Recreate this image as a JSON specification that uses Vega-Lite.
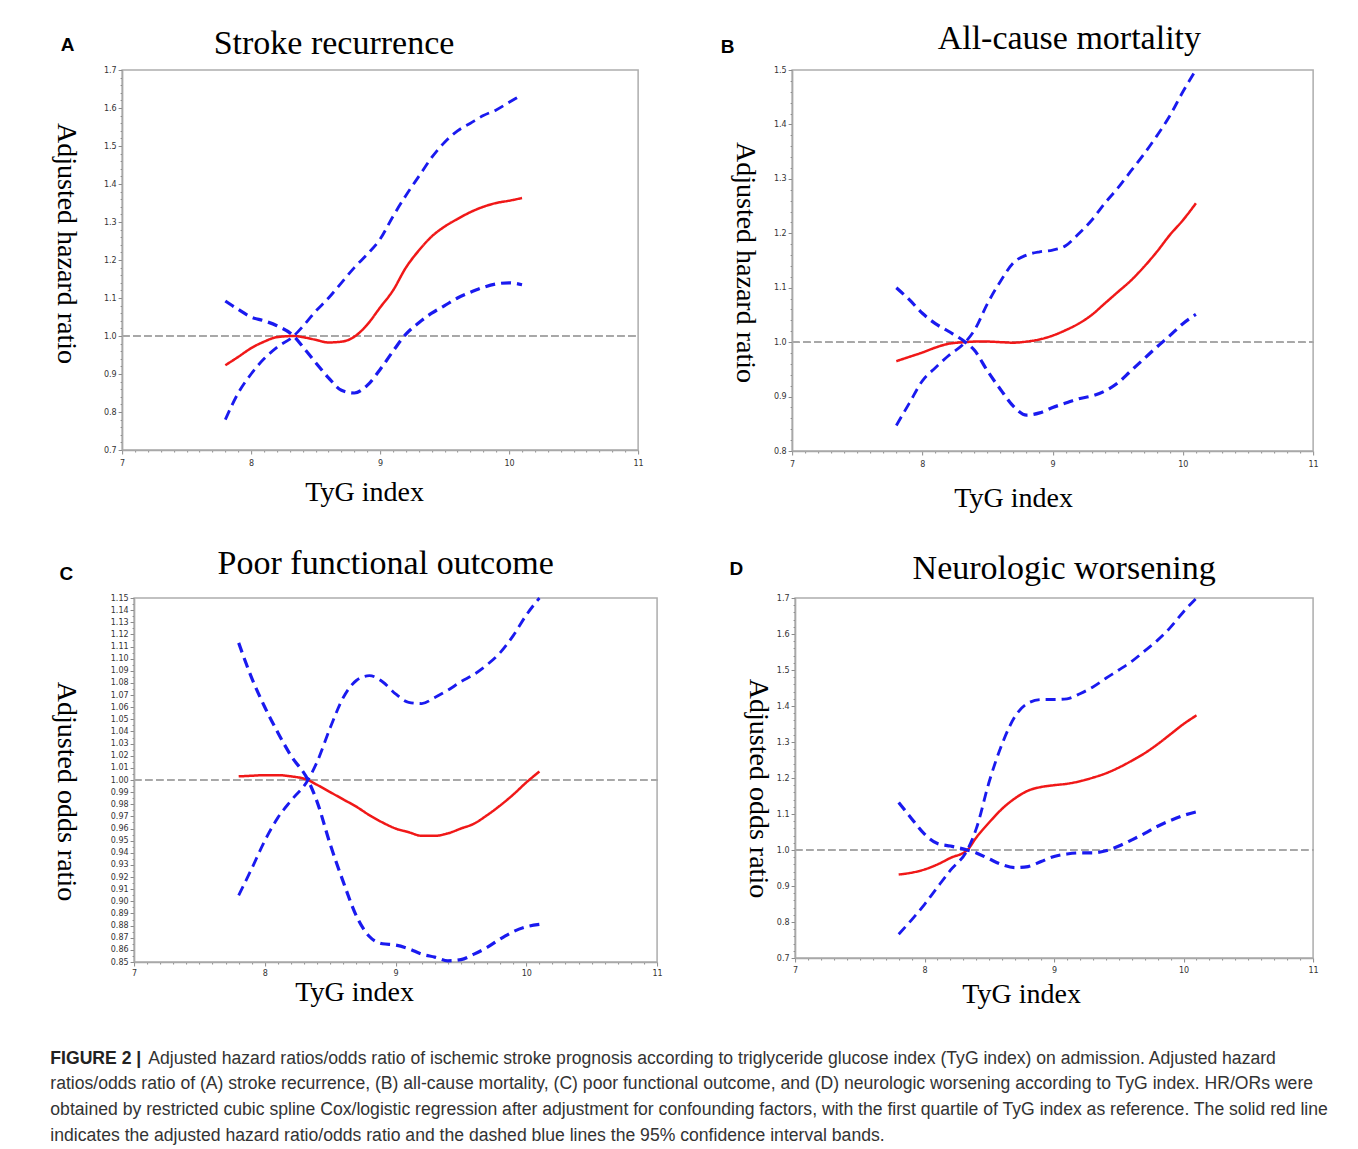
{
  "$schema": "https://vega.github.io/schema/vega-lite/v6.json",
  "padding": {"left": 50, "top": 20, "right": 0, "bottom": 0},
  "background": "white",
  "datasets": {
    "A": [
      {"tyg": 7.8, "estimate": 0.923, "ci_1": 0.78, "ci_2": 1.092},
      {"tyg": 7.9, "estimate": 0.945, "ci_1": 0.85, "ci_2": 1.07},
      {"tyg": 8.0, "estimate": 0.968, "ci_1": 0.90, "ci_2": 1.05},
      {"tyg": 8.1, "estimate": 0.985, "ci_1": 0.94, "ci_2": 1.04},
      {"tyg": 8.2, "estimate": 0.997, "ci_1": 0.97, "ci_2": 1.027},
      {"tyg": 8.33, "estimate": 1.0, "ci_1": 1.0, "ci_2": 1.0},
      {"tyg": 8.4, "estimate": 0.997, "ci_1": 1.025, "ci_2": 0.972},
      {"tyg": 8.5, "estimate": 0.99, "ci_1": 1.065, "ci_2": 0.93},
      {"tyg": 8.6, "estimate": 0.983, "ci_1": 1.10, "ci_2": 0.89},
      {"tyg": 8.7, "estimate": 0.985, "ci_1": 1.14, "ci_2": 0.857},
      {"tyg": 8.8, "estimate": 0.998, "ci_1": 1.18, "ci_2": 0.85},
      {"tyg": 8.9, "estimate": 1.03, "ci_1": 1.215, "ci_2": 0.87},
      {"tyg": 9.0, "estimate": 1.075, "ci_1": 1.255, "ci_2": 0.912},
      {"tyg": 9.1, "estimate": 1.12, "ci_1": 1.315, "ci_2": 0.96},
      {"tyg": 9.2, "estimate": 1.18, "ci_1": 1.37, "ci_2": 1.005},
      {"tyg": 9.3, "estimate": 1.225, "ci_1": 1.42, "ci_2": 1.035},
      {"tyg": 9.4, "estimate": 1.262, "ci_1": 1.47, "ci_2": 1.06},
      {"tyg": 9.5, "estimate": 1.288, "ci_1": 1.51, "ci_2": 1.08},
      {"tyg": 9.6, "estimate": 1.308, "ci_1": 1.54, "ci_2": 1.10},
      {"tyg": 9.7, "estimate": 1.326, "ci_1": 1.56, "ci_2": 1.115},
      {"tyg": 9.8, "estimate": 1.34, "ci_1": 1.58, "ci_2": 1.128},
      {"tyg": 9.9, "estimate": 1.35, "ci_1": 1.595, "ci_2": 1.137},
      {"tyg": 10.0, "estimate": 1.356, "ci_1": 1.615, "ci_2": 1.14},
      {"tyg": 10.1, "estimate": 1.363, "ci_1": 1.635, "ci_2": 1.135}
    ],
    "B": [
      {"tyg": 7.8, "estimate": 0.965, "ci_1": 0.847, "ci_2": 1.1},
      {"tyg": 7.9, "estimate": 0.973, "ci_1": 0.888, "ci_2": 1.078},
      {"tyg": 8.0, "estimate": 0.981, "ci_1": 0.929, "ci_2": 1.053},
      {"tyg": 8.1, "estimate": 0.99, "ci_1": 0.953, "ci_2": 1.034},
      {"tyg": 8.2, "estimate": 0.997, "ci_1": 0.975, "ci_2": 1.02},
      {"tyg": 8.33, "estimate": 1.0, "ci_1": 1.0, "ci_2": 1.0},
      {"tyg": 8.4, "estimate": 1.001, "ci_1": 1.022, "ci_2": 0.985},
      {"tyg": 8.5, "estimate": 1.001, "ci_1": 1.071, "ci_2": 0.947},
      {"tyg": 8.6, "estimate": 1.0, "ci_1": 1.112, "ci_2": 0.913},
      {"tyg": 8.7, "estimate": 0.999, "ci_1": 1.146, "ci_2": 0.882},
      {"tyg": 8.8, "estimate": 1.001, "ci_1": 1.16, "ci_2": 0.866},
      {"tyg": 8.9, "estimate": 1.005, "ci_1": 1.166, "ci_2": 0.87},
      {"tyg": 9.0, "estimate": 1.012, "ci_1": 1.169, "ci_2": 0.88},
      {"tyg": 9.1, "estimate": 1.022, "ci_1": 1.177, "ci_2": 0.888},
      {"tyg": 9.2, "estimate": 1.034, "ci_1": 1.199, "ci_2": 0.896},
      {"tyg": 9.3, "estimate": 1.05, "ci_1": 1.224, "ci_2": 0.901},
      {"tyg": 9.4, "estimate": 1.071, "ci_1": 1.255, "ci_2": 0.91},
      {"tyg": 9.5, "estimate": 1.092, "ci_1": 1.283, "ci_2": 0.925},
      {"tyg": 9.6, "estimate": 1.113, "ci_1": 1.314, "ci_2": 0.947},
      {"tyg": 9.7, "estimate": 1.138, "ci_1": 1.345, "ci_2": 0.969},
      {"tyg": 9.8, "estimate": 1.166, "ci_1": 1.379, "ci_2": 0.991},
      {"tyg": 9.9, "estimate": 1.197, "ci_1": 1.416, "ci_2": 1.012},
      {"tyg": 10.0, "estimate": 1.224, "ci_1": 1.46, "ci_2": 1.034},
      {"tyg": 10.1, "estimate": 1.255, "ci_1": 1.5, "ci_2": 1.051}
    ],
    "C": [
      {"tyg": 7.8, "estimate": 1.003, "ci_1": 0.905, "ci_2": 1.113},
      {"tyg": 7.9, "estimate": 1.0035, "ci_1": 0.927, "ci_2": 1.084},
      {"tyg": 8.0, "estimate": 1.004, "ci_1": 0.95, "ci_2": 1.06},
      {"tyg": 8.1, "estimate": 1.004, "ci_1": 0.969, "ci_2": 1.039},
      {"tyg": 8.2, "estimate": 1.003, "ci_1": 0.983, "ci_2": 1.02},
      {"tyg": 8.33, "estimate": 1.0, "ci_1": 1.0, "ci_2": 1.0},
      {"tyg": 8.4, "estimate": 0.996, "ci_1": 1.015, "ci_2": 0.982},
      {"tyg": 8.5, "estimate": 0.99, "ci_1": 1.043, "ci_2": 0.947},
      {"tyg": 8.6, "estimate": 0.984, "ci_1": 1.068, "ci_2": 0.916},
      {"tyg": 8.7, "estimate": 0.978, "ci_1": 1.082, "ci_2": 0.888},
      {"tyg": 8.8, "estimate": 0.971, "ci_1": 1.086, "ci_2": 0.871},
      {"tyg": 8.9, "estimate": 0.965, "ci_1": 1.081, "ci_2": 0.865},
      {"tyg": 9.0, "estimate": 0.96, "ci_1": 1.071, "ci_2": 0.864},
      {"tyg": 9.1, "estimate": 0.957, "ci_1": 1.064, "ci_2": 0.861},
      {"tyg": 9.2, "estimate": 0.954, "ci_1": 1.063, "ci_2": 0.8565},
      {"tyg": 9.3, "estimate": 0.954, "ci_1": 1.068, "ci_2": 0.854},
      {"tyg": 9.4, "estimate": 0.956, "ci_1": 1.074, "ci_2": 0.851},
      {"tyg": 9.5, "estimate": 0.96, "ci_1": 1.081, "ci_2": 0.852},
      {"tyg": 9.6, "estimate": 0.964, "ci_1": 1.087, "ci_2": 0.8565},
      {"tyg": 9.7, "estimate": 0.971, "ci_1": 1.095, "ci_2": 0.862},
      {"tyg": 9.8, "estimate": 0.979, "ci_1": 1.105, "ci_2": 0.869},
      {"tyg": 9.9, "estimate": 0.988, "ci_1": 1.119, "ci_2": 0.875},
      {"tyg": 10.0, "estimate": 0.998, "ci_1": 1.136, "ci_2": 0.879},
      {"tyg": 10.1, "estimate": 1.007, "ci_1": 1.15, "ci_2": 0.881}
    ],
    "D": [
      {"tyg": 7.8, "estimate": 0.932, "ci_1": 0.766, "ci_2": 1.132},
      {"tyg": 7.9, "estimate": 0.937, "ci_1": 0.806, "ci_2": 1.087},
      {"tyg": 8.0, "estimate": 0.946, "ci_1": 0.849, "ci_2": 1.044},
      {"tyg": 8.1, "estimate": 0.96, "ci_1": 0.897, "ci_2": 1.018},
      {"tyg": 8.2, "estimate": 0.978, "ci_1": 0.944, "ci_2": 1.011},
      {"tyg": 8.33, "estimate": 1.0, "ci_1": 1.0, "ci_2": 1.0},
      {"tyg": 8.4, "estimate": 1.035, "ci_1": 1.06, "ci_2": 0.992},
      {"tyg": 8.5, "estimate": 1.077, "ci_1": 1.191, "ci_2": 0.975},
      {"tyg": 8.6, "estimate": 1.115, "ci_1": 1.296, "ci_2": 0.959},
      {"tyg": 8.7, "estimate": 1.144, "ci_1": 1.372, "ci_2": 0.951},
      {"tyg": 8.8, "estimate": 1.165, "ci_1": 1.408, "ci_2": 0.954},
      {"tyg": 8.9, "estimate": 1.175, "ci_1": 1.418, "ci_2": 0.968},
      {"tyg": 9.0, "estimate": 1.18, "ci_1": 1.418, "ci_2": 0.982},
      {"tyg": 9.1, "estimate": 1.184, "ci_1": 1.42, "ci_2": 0.989},
      {"tyg": 9.2, "estimate": 1.191, "ci_1": 1.434, "ci_2": 0.992},
      {"tyg": 9.3, "estimate": 1.201, "ci_1": 1.453, "ci_2": 0.992},
      {"tyg": 9.4, "estimate": 1.213, "ci_1": 1.477, "ci_2": 0.998},
      {"tyg": 9.5, "estimate": 1.229, "ci_1": 1.5, "ci_2": 1.011},
      {"tyg": 9.6, "estimate": 1.248, "ci_1": 1.524, "ci_2": 1.028},
      {"tyg": 9.7, "estimate": 1.269, "ci_1": 1.553, "ci_2": 1.046},
      {"tyg": 9.8, "estimate": 1.294, "ci_1": 1.583, "ci_2": 1.066},
      {"tyg": 9.9, "estimate": 1.322, "ci_1": 1.619, "ci_2": 1.082},
      {"tyg": 10.0, "estimate": 1.35, "ci_1": 1.662, "ci_2": 1.096},
      {"tyg": 10.1, "estimate": 1.374, "ci_1": 1.70, "ci_2": 1.106}
    ]
  },
  "title": {
    "text": "FIGURE 2 |",
    "subtitle": [
      "ratios/odds ratio of (A) stroke recurrence, (B) all-cause mortality, (C) poor functional outcome, and (D) neurologic worsening according to TyG index. HR/ORs were",
      "obtained by restricted cubic spline Cox/logistic regression after adjustment for confounding factors, with the first quartile of TyG index as reference. The solid red line",
      "indicates the adjusted hazard ratio/odds ratio and the dashed blue lines the 95% confidence interval bands."
    ],
    "orient": "bottom",
    "anchor": "start",
    "frame": "bounds",
    "align": "left",
    "offset": -17.6,
    "font": "Liberation Sans",
    "fontSize": 17.6,
    "fontWeight": "bold",
    "color": "#222222",
    "subtitleFont": "Liberation Sans",
    "subtitleFontSize": 17.6,
    "subtitleFontWeight": "normal",
    "subtitleColor": "#333333",
    "subtitleLineHeight": 25.7,
    "subtitlePadding": 8.1
  },
  "vconcat": [
    {
      "title": {
        "text": "Adjusted hazard ratios/odds ratio of ischemic stroke prognosis according to triglyceride glucose index (TyG index) on admission. Adjusted hazard",
        "orient": "bottom",
        "anchor": "start",
        "frame": "bounds",
        "align": "left",
        "dx": 98,
        "offset": 41,
        "limit": 0,
        "font": "Liberation Sans",
        "fontSize": 17.6,
        "fontWeight": "normal",
        "color": "#333333"
      },
      "center": true,
      "spacing": 32,
      "vconcat": [
        {
          "spacing": 75,
          "hconcat": [
            {
              "width": 516, "height": 380,
              "data": {"name": "A"},
              "layer": [
                {
                  "mark": {"type": "rule", "color": "#a8a8a8", "strokeDash": [7, 4], "strokeWidth": 1.5},
                  "encoding": {
                    "x": {"datum": 7, "type": "quantitative", "scale": {"domain": [7, 11]},
                      "axis": {"orient": "top", "title": "Stroke recurrence", "titleFont": "Liberation Serif", "titleFontSize": 34, "titleX": 91, "titleY": -17, "titleAlign": "left", "titleBaseline": "alphabetic", "labels": false, "ticks": false, "domain": false}},
                    "x2": {"datum": 11},
                    "y": {"datum": 1, "type": "quantitative", "scale": {"domain": [0.7, 1.7]},
                      "axis": {"orient": "right", "title": "A", "titleFont": "Liberation Sans", "titleFontWeight": "bold", "titleFontSize": 19, "titleAngle": 0, "titleX": -578, "titleY": -20, "titleAlign": "left", "titleBaseline": "alphabetic", "labels": false, "ticks": false, "domain": false}}
                  }
                },
                {
                  "transform": [{"fold": ["estimate", "ci_1", "ci_2"], "as": ["series", "value"]}],
                  "mark": {"type": "line", "interpolate": "monotone", "strokeCap": "butt"},
                  "encoding": {
                    "x": {"field": "tyg", "type": "quantitative", "scale": {"domain": [7, 11]},
                      "axis": {"orient": "bottom", "title": "TyG index", "titleFontSize": 28, "titleX": 242, "titleY": 50, "titleAlign": "center", "titleBaseline": "alphabetic", "labelPadding": 5,
                        "values": [7,7.1,7.2,7.3,7.4,7.5,7.6,7.7,7.8,7.9,8,8.1,8.2,8.3,8.4,8.5,8.6,8.7,8.8,8.9,9,9.1,9.2,9.3,9.4,9.5,9.6,9.7,9.8,9.9,10,10.1,10.2,10.3,10.4,10.5,10.6,10.7,10.8,10.9,11],
                        "labelExpr": "abs(datum.value - round(datum.value)) < 0.001 ? format(datum.value, 'd') : ''",
                        "tickSize": {"condition": {"test": "abs(datum.value - round(datum.value)) < 0.001", "value": 4}, "value": 2}}},
                    "y": {"field": "value", "type": "quantitative", "scale": {"domain": [0.7, 1.7]},
                      "axis": {"orient": "left", "title": "Adjusted hazard ratio", "titleFontSize": 28, "titleAngle": 90, "titleX": -43, "titleY": 173, "titleAlign": "center", "titleBaseline": "top",
                        "values": [0.7,0.72,0.74,0.76,0.78,0.8,0.82,0.84,0.86,0.88,0.9,0.92,0.94,0.96,0.98,1,1.02,1.04,1.06,1.08,1.1,1.12,1.14,1.16,1.18,1.2,1.22,1.24,1.26,1.28,1.3,1.32,1.34,1.36,1.38,1.4,1.42,1.44,1.46,1.48,1.5,1.52,1.54,1.56,1.58,1.6,1.62,1.64,1.66,1.68,1.7],
                        "labelExpr": "abs(datum.value * 10 - round(datum.value * 10)) < 0.001 ? format(datum.value, '.1f') : ''",
                        "tickSize": {"condition": {"test": "abs(datum.value * 10 - round(datum.value * 10)) < 0.001", "value": 4}, "value": 2}}},
                    "color": {"field": "series", "type": "nominal", "scale": {"domain": ["estimate", "ci_1", "ci_2"], "range": ["#f01818", "#1a1aef", "#1a1aef"]}, "legend": null},
                    "strokeDash": {"field": "series", "type": "nominal", "scale": {"domain": ["estimate", "ci_1", "ci_2"], "range": [[1, 0], [10, 6], [10, 6]]}, "legend": null},
                    "strokeWidth": {"field": "series", "type": "ordinal", "scale": {"domain": ["estimate", "ci_1", "ci_2"], "range": [2.5, 3.2, 3.2]}, "legend": null}
                  }
                }
              ],
              "resolve": {"axis": {"x": "independent", "y": "independent"}}
            },
            {
              "width": 521, "height": 381,
              "data": {"name": "B"},
              "layer": [
                {
                  "mark": {"type": "rule", "color": "#a8a8a8", "strokeDash": [7, 4], "strokeWidth": 1.5},
                  "encoding": {
                    "x": {"datum": 7, "type": "quantitative", "scale": {"domain": [7, 11]},
                      "axis": {"orient": "top", "title": "All-cause mortality", "titleFont": "Liberation Serif", "titleFontSize": 34, "titleX": 145, "titleY": -22, "titleAlign": "left", "titleBaseline": "alphabetic", "labels": false, "ticks": false, "domain": false}},
                    "x2": {"datum": 11},
                    "y": {"datum": 1, "type": "quantitative", "scale": {"domain": [0.8, 1.5]},
                      "axis": {"orient": "right", "offset": 17, "title": "B", "titleFont": "Liberation Sans", "titleFontWeight": "bold", "titleFontSize": 19, "titleAngle": 0, "titleX": -610, "titleY": -18, "titleAlign": "left", "titleBaseline": "alphabetic", "labels": false, "ticks": false, "domain": true, "domainOpacity": 0}}
                  }
                },
                {
                  "transform": [{"fold": ["estimate", "ci_1", "ci_2"], "as": ["series", "value"]}],
                  "mark": {"type": "line", "interpolate": "monotone", "strokeCap": "butt"},
                  "encoding": {
                    "x": {"field": "tyg", "type": "quantitative", "scale": {"domain": [7, 11]},
                      "axis": {"orient": "bottom", "title": "TyG index", "titleFontSize": 28, "titleX": 221, "titleY": 55, "titleAlign": "center", "titleBaseline": "alphabetic", "labelPadding": 5,
                        "values": [7,7.1,7.2,7.3,7.4,7.5,7.6,7.7,7.8,7.9,8,8.1,8.2,8.3,8.4,8.5,8.6,8.7,8.8,8.9,9,9.1,9.2,9.3,9.4,9.5,9.6,9.7,9.8,9.9,10,10.1,10.2,10.3,10.4,10.5,10.6,10.7,10.8,10.9,11],
                        "labelExpr": "abs(datum.value - round(datum.value)) < 0.001 ? format(datum.value, 'd') : ''",
                        "tickSize": {"condition": {"test": "abs(datum.value - round(datum.value)) < 0.001", "value": 4}, "value": 2}}},
                    "y": {"field": "value", "type": "quantitative", "scale": {"domain": [0.8, 1.5]},
                      "axis": {"orient": "left", "title": "Adjusted hazard ratio", "titleFontSize": 28, "titleAngle": 90, "titleX": -34, "titleY": 192, "titleAlign": "center", "titleBaseline": "top",
                        "values": [0.8,0.82,0.84,0.86,0.88,0.9,0.92,0.94,0.96,0.98,1,1.02,1.04,1.06,1.08,1.1,1.12,1.14,1.16,1.18,1.2,1.22,1.24,1.26,1.28,1.3,1.32,1.34,1.36,1.38,1.4,1.42,1.44,1.46,1.48,1.5],
                        "labelExpr": "abs(datum.value * 10 - round(datum.value * 10)) < 0.001 ? format(datum.value, '.1f') : ''",
                        "tickSize": {"condition": {"test": "abs(datum.value * 10 - round(datum.value * 10)) < 0.001", "value": 4}, "value": 2}}},
                    "color": {"field": "series", "type": "nominal", "scale": {"domain": ["estimate", "ci_1", "ci_2"], "range": ["#f01818", "#1a1aef", "#1a1aef"]}, "legend": null},
                    "strokeDash": {"field": "series", "type": "nominal", "scale": {"domain": ["estimate", "ci_1", "ci_2"], "range": [[1, 0], [10, 6], [10, 6]]}, "legend": null},
                    "strokeWidth": {"field": "series", "type": "ordinal", "scale": {"domain": ["estimate", "ci_1", "ci_2"], "range": [2.5, 3.2, 3.2]}, "legend": null}
                  }
                }
              ],
              "resolve": {"axis": {"x": "independent", "y": "independent"}}
            }
          ]
        },
        {
          "spacing": 65,
          "hconcat": [
            {
              "width": 523, "height": 364,
              "data": {"name": "C"},
              "layer": [
                {
                  "mark": {"type": "rule", "color": "#a8a8a8", "strokeDash": [7, 4], "strokeWidth": 1.5},
                  "encoding": {
                    "x": {"datum": 7, "type": "quantitative", "scale": {"domain": [7, 11]},
                      "axis": {"orient": "top", "title": "Poor functional outcome", "titleFont": "Liberation Serif", "titleFontSize": 34, "titleX": 83, "titleY": -25, "titleAlign": "left", "titleBaseline": "alphabetic", "labels": false, "ticks": false, "domain": false}},
                    "x2": {"datum": 11},
                    "y": {"datum": 1, "type": "quantitative", "scale": {"domain": [0.85, 1.15]},
                      "axis": {"orient": "right", "title": "C", "titleFont": "Liberation Sans", "titleFontWeight": "bold", "titleFontSize": 19, "titleAngle": 0, "titleX": -598, "titleY": -19, "titleAlign": "left", "titleBaseline": "alphabetic", "labels": false, "ticks": false, "domain": false}}
                  }
                },
                {
                  "transform": [{"fold": ["estimate", "ci_1", "ci_2"], "as": ["series", "value"]}],
                  "mark": {"type": "line", "interpolate": "monotone", "strokeCap": "butt"},
                  "encoding": {
                    "x": {"field": "tyg", "type": "quantitative", "scale": {"domain": [7, 11]},
                      "axis": {"orient": "bottom", "title": "TyG index", "titleFontSize": 28, "titleX": 220, "titleY": 38, "titleAlign": "center", "titleBaseline": "alphabetic", "labelPadding": 3,
                        "values": [7,7.1,7.2,7.3,7.4,7.5,7.6,7.7,7.8,7.9,8,8.1,8.2,8.3,8.4,8.5,8.6,8.7,8.8,8.9,9,9.1,9.2,9.3,9.4,9.5,9.6,9.7,9.8,9.9,10,10.1,10.2,10.3,10.4,10.5,10.6,10.7,10.8,10.9,11],
                        "labelExpr": "abs(datum.value - round(datum.value)) < 0.001 ? format(datum.value, 'd') : ''",
                        "tickSize": {"condition": {"test": "abs(datum.value - round(datum.value)) < 0.001", "value": 4}, "value": 2}}},
                    "y": {"field": "value", "type": "quantitative", "scale": {"domain": [0.85, 1.15]},
                      "axis": {"orient": "left", "title": "Adjusted odds ratio", "titleFontSize": 28, "titleAngle": 90, "titleX": -55, "titleY": 193, "titleAlign": "center", "titleBaseline": "top",
                        "values": [0.85,0.855,0.86,0.865,0.87,0.875,0.88,0.885,0.89,0.895,0.9,0.905,0.91,0.915,0.92,0.925,0.93,0.935,0.94,0.945,0.95,0.955,0.96,0.965,0.97,0.975,0.98,0.985,0.99,0.995,1,1.005,1.01,1.015,1.02,1.025,1.03,1.035,1.04,1.045,1.05,1.055,1.06,1.065,1.07,1.075,1.08,1.085,1.09,1.095,1.1,1.105,1.11,1.115,1.12,1.125,1.13,1.135,1.14,1.145,1.15],
                        "labelExpr": "abs(datum.value * 100 - round(datum.value * 100)) < 0.01 ? format(datum.value, '.2f') : ''",
                        "tickSize": {"condition": {"test": "abs(datum.value * 100 - round(datum.value * 100)) < 0.01", "value": 4}, "value": 2}}},
                    "color": {"field": "series", "type": "nominal", "scale": {"domain": ["estimate", "ci_1", "ci_2"], "range": ["#f01818", "#1a1aef", "#1a1aef"]}, "legend": null},
                    "strokeDash": {"field": "series", "type": "nominal", "scale": {"domain": ["estimate", "ci_1", "ci_2"], "range": [[1, 0], [10, 6], [10, 6]]}, "legend": null},
                    "strokeWidth": {"field": "series", "type": "ordinal", "scale": {"domain": ["estimate", "ci_1", "ci_2"], "range": [2.5, 3.2, 3.2]}, "legend": null}
                  }
                }
              ],
              "resolve": {"axis": {"x": "independent", "y": "independent"}}
            },
            {
              "width": 518, "height": 360,
              "data": {"name": "D"},
              "layer": [
                {
                  "mark": {"type": "rule", "color": "#a8a8a8", "strokeDash": [7, 4], "strokeWidth": 1.5},
                  "encoding": {
                    "x": {"datum": 7, "type": "quantitative", "scale": {"domain": [7, 11]},
                      "axis": {"orient": "top", "title": "Neurologic worsening", "titleFont": "Liberation Serif", "titleFontSize": 34, "titleX": 117, "titleY": -20, "titleAlign": "left", "titleBaseline": "alphabetic", "labels": false, "ticks": false, "domain": false}},
                    "x2": {"datum": 11},
                    "y": {"datum": 1, "type": "quantitative", "scale": {"domain": [0.7, 1.7]},
                      "axis": {"orient": "right", "title": "D", "titleFont": "Liberation Sans", "titleFontWeight": "bold", "titleFontSize": 19, "titleAngle": 0, "titleX": -584, "titleY": -24, "titleAlign": "left", "titleBaseline": "alphabetic", "labels": false, "ticks": false, "domain": false}}
                  }
                },
                {
                  "transform": [{"fold": ["estimate", "ci_1", "ci_2"], "as": ["series", "value"]}],
                  "mark": {"type": "line", "interpolate": "monotone", "strokeCap": "butt"},
                  "encoding": {
                    "x": {"field": "tyg", "type": "quantitative", "scale": {"domain": [7, 11]},
                      "axis": {"orient": "bottom", "title": "TyG index", "titleFontSize": 28, "titleX": 226, "titleY": 44, "titleAlign": "center", "titleBaseline": "alphabetic", "labelPadding": 4,
                        "values": [7,7.1,7.2,7.3,7.4,7.5,7.6,7.7,7.8,7.9,8,8.1,8.2,8.3,8.4,8.5,8.6,8.7,8.8,8.9,9,9.1,9.2,9.3,9.4,9.5,9.6,9.7,9.8,9.9,10,10.1,10.2,10.3,10.4,10.5,10.6,10.7,10.8,10.9,11],
                        "labelExpr": "abs(datum.value - round(datum.value)) < 0.001 ? format(datum.value, 'd') : ''",
                        "tickSize": {"condition": {"test": "abs(datum.value - round(datum.value)) < 0.001", "value": 4}, "value": 2}}},
                    "y": {"field": "value", "type": "quantitative", "scale": {"domain": [0.7, 1.7]},
                      "axis": {"orient": "left", "title": "Adjusted odds ratio", "titleFontSize": 28, "titleAngle": 90, "titleX": -24, "titleY": 190, "titleAlign": "center", "titleBaseline": "top",
                        "values": [0.7,0.72,0.74,0.76,0.78,0.8,0.82,0.84,0.86,0.88,0.9,0.92,0.94,0.96,0.98,1,1.02,1.04,1.06,1.08,1.1,1.12,1.14,1.16,1.18,1.2,1.22,1.24,1.26,1.28,1.3,1.32,1.34,1.36,1.38,1.4,1.42,1.44,1.46,1.48,1.5,1.52,1.54,1.56,1.58,1.6,1.62,1.64,1.66,1.68,1.7],
                        "labelExpr": "abs(datum.value * 10 - round(datum.value * 10)) < 0.001 ? format(datum.value, '.1f') : ''",
                        "tickSize": {"condition": {"test": "abs(datum.value * 10 - round(datum.value * 10)) < 0.001", "value": 4}, "value": 2}}},
                    "color": {"field": "series", "type": "nominal", "scale": {"domain": ["estimate", "ci_1", "ci_2"], "range": ["#f01818", "#1a1aef", "#1a1aef"]}, "legend": null},
                    "strokeDash": {"field": "series", "type": "nominal", "scale": {"domain": ["estimate", "ci_1", "ci_2"], "range": [[1, 0], [10, 6], [10, 6]]}, "legend": null},
                    "strokeWidth": {"field": "series", "type": "ordinal", "scale": {"domain": ["estimate", "ci_1", "ci_2"], "range": [2.5, 3.2, 3.2]}, "legend": null}
                  }
                }
              ],
              "resolve": {"axis": {"x": "independent", "y": "independent"}}
            }
          ]
        }
      ]
    }
  ],
  "config": {
    "view": {"stroke": "#adadad", "strokeWidth": 1.5},
    "axis": {
      "grid": false,
      "labelFont": "DejaVu Sans",
      "labelFontSize": 8,
      "labelColor": "#333333",
      "tickColor": "#8a8a8a",
      "tickWidth": 1,
      "domainColor": "#a8a8a8",
      "domainWidth": 1.5,
      "labelPadding": 2,
      "labelOverlap": false,
      "labelFlush": false,
      "titleFont": "Liberation Serif",
      "titleFontWeight": "normal",
      "titleColor": "#000000"
    }
  }
}
